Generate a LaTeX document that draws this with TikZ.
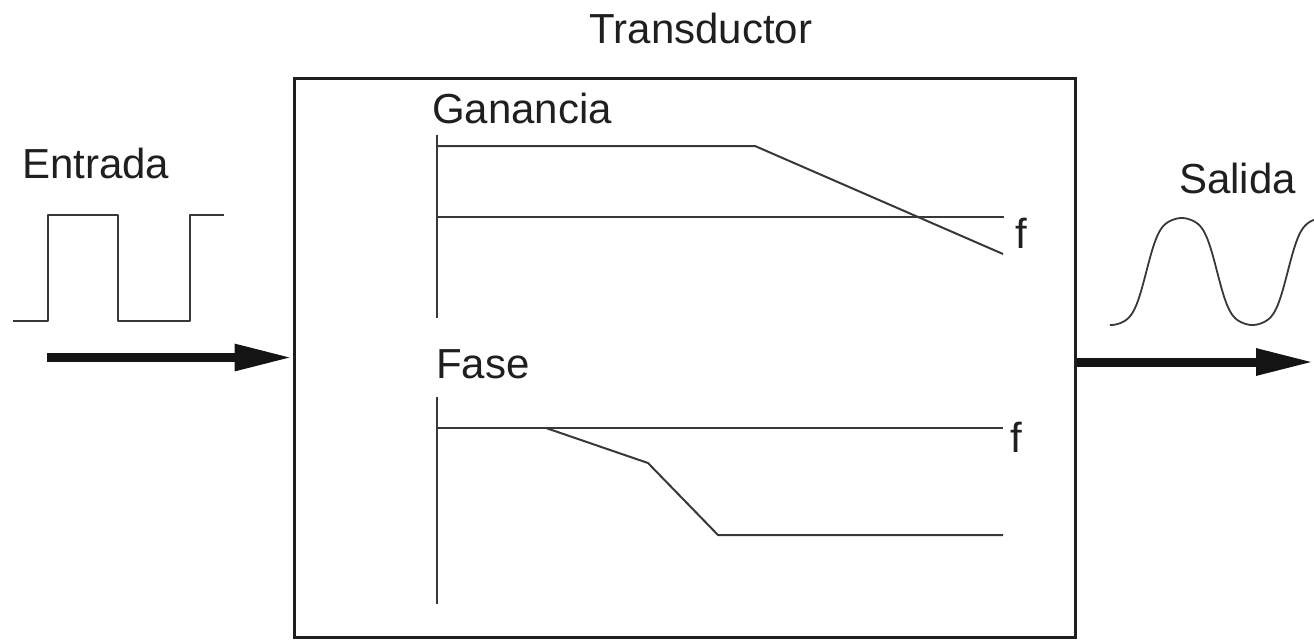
\documentclass[tikz,border=0pt]{standalone}
\usepackage{fontspec}
\setmainfont{Liberation Sans}
\usetikzlibrary{arrows.meta}
\begin{document}
\begin{tikzpicture}[x=1pt,y=-1pt,
  txt/.style={inner sep=0pt, font=\fontsize{42}{50}\selectfont, text=black!88},
  frame/.style={draw=black!88, line width=3pt, inner sep=0pt},
  trace/.style={line width=2pt, draw=black!78, line join=round},
  bigarrow/.style={line width=9pt, draw=black!92,
    -{Triangle[length=58pt, width=25pt]}}]
  \useasboundingbox (0,0) rectangle (1314,641);

  % transducer block
  \node[frame, minimum width=781pt, minimum height=559pt] (box) at (684.5,357.5) {};
  \node[txt, anchor=base] (title) at (701,43) {Transductor};

  % input side
  \node[txt, anchor=base west] (inlabel) at (22,178) {Entrada};
  \draw[trace] (13,321) -- (48,321) -- (48,215) -- (118,215) -- (118,321)
    -- (190,321) -- (190,215) -- (224,215);
  \coordinate (instart) at (47,357.5);
  \draw[bigarrow] (instart) -- (box.west);

  % output side
  \node[txt, anchor=base west] (outlabel) at (1179,193) {Salida};
  \begin{scope}
    \clip (0,0) rectangle (1314,641);
    \draw[trace, line width=1.8pt] plot[variable=\t, domain=-3:560, samples=240, smooth]
      ({1111 + \t/180*70.7},
       {271.5 + 53.5*(cos(\t) - 0.12*cos(3*\t) + 0.02*cos(5*\t))/0.9});
  \end{scope}
  \coordinate (outend) at (1314,362);
  \draw[bigarrow] (box.east |- outend) -- (outend);

  % gain plot
  \node[txt, anchor=base west] (gainlabel) at (432,123) {Ganancia};
  \draw[trace] (437,135) -- (437,318);
  \draw[trace] (437,217) -- (1004,217);
  \draw[trace] (437,146) -- (755,146) -- (1003,254);
  \node[txt, anchor=base west] (gainf) at (1015,248) {f};

  % phase plot
  \node[txt, anchor=base west] (phaselabel) at (436,378) {Fase};
  \draw[trace] (437,397) -- (437,604);
  \draw[trace] (437,428) -- (1003,428);
  \draw[trace] (546,428) -- (648,463) -- (718,535) -- (1003,535);
  \node[txt, anchor=base west] (phasef) at (1010,452) {f};
\end{tikzpicture}
\end{document}
